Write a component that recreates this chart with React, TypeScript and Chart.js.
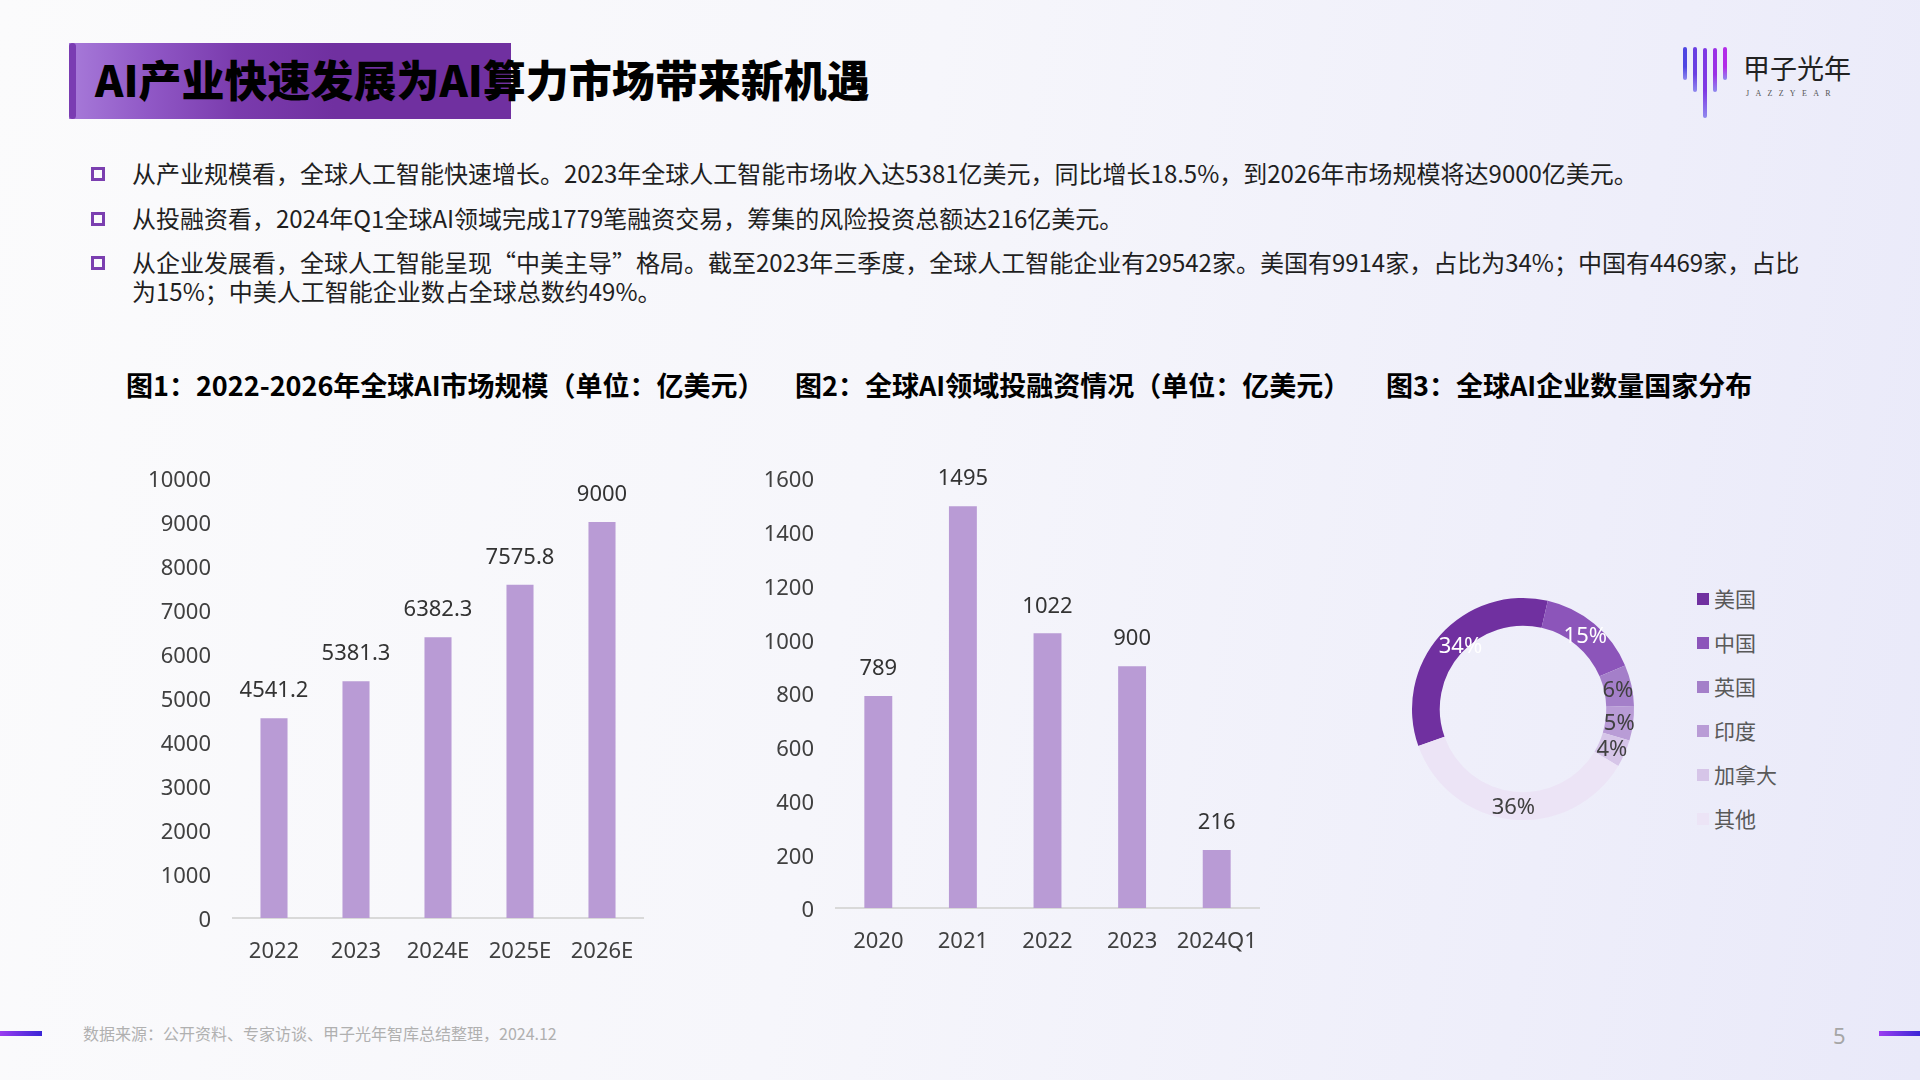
import React, { useEffect, useRef } from "react";
import { Chart, registerables } from "chart.js";

Chart.register(...registerables);

const FONT_CJK = "'Noto Sans CJK SC', 'Noto Sans', sans-serif";
const FONT_NUM = "'Noto Sans', 'Noto Sans CJK SC', sans-serif";

// ---------- data ----------
const pageTitle = "AI产业快速发展为AI算力市场带来新机遇";
const bulletTexts = [
  "从产业规模看，全球人工智能快速增长。2023年全球人工智能市场收入达5381亿美元，同比增长18.5%，到2026年市场规模将达9000亿美元。",
  "从投融资看，2024年Q1全球AI领域完成1779笔融资交易，筹集的风险投资总额达216亿美元。",
  "从企业发展看，全球人工智能呈现“中美主导”格局。截至2023年三季度，全球人工智能企业有29542家。美国有9914家，占比为34%；中国有4469家，占比\n为15%；中美人工智能企业数占全球总数约49%。",
];
const chartTitles = [
  "图1：2022-2026年全球AI市场规模（单位：亿美元）",
  "图2：全球AI领域投融资情况（单位：亿美元）",
  "图3：全球AI企业数量国家分布",
];

const marketYears = ["2022", "2023", "2024E", "2025E", "2026E"];
const marketValues = [4541.2, 5381.3, 6382.3, 7575.8, 9000];
const marketAxisMax = 10000;
const marketAxisStep = 1000;

const investPeriods = ["2020", "2021", "2022", "2023", "2024Q1"];
const investValues = [789, 1495, 1022, 900, 216];
const investAxisMax = 1600;
const investAxisStep = 200;

const countryNames = ["美国", "中国", "英国", "印度", "加拿大", "其他"];
const countryShares = [34, 15, 6, 5, 4, 36];
const countryColors = ["#7030a0", "#8c55ba", "#a47fc9", "#b99cd6", "#d6c5e8", "#ece4f6"];
const countryLabelColors = ["#ffffff", "#ffffff", "#404040", "#404040", "#404040", "#404040"];

const sourceNote = "数据来源：公开资料、专家访谈、甲子光年智库总结整理，2024.12";
const pageNumber = "5";

const BAR_COLOR = "#b99bd5";

// ---------- plugins ----------
const barValueLabels = {
  id: "barValueLabels",
  afterDatasetsDraw(chart: any) {
    const ctx = chart.ctx;
    const meta = chart.getDatasetMeta(0);
    const data = chart.data.datasets[0].data;
    ctx.save();
    ctx.font = `22px ${FONT_NUM}`;
    ctx.fillStyle = "#333333";
    ctx.textAlign = "center";
    ctx.textBaseline = "middle";
    meta.data.forEach((bar: any, i: number) => {
      ctx.fillText(String(data[i]), bar.x, bar.y - 27);
    });
    ctx.restore();
  },
};

const donutLabels = {
  id: "donutLabels",
  afterDatasetsDraw(chart: any) {
    const ctx = chart.ctx;
    const meta = chart.getDatasetMeta(0);
    const data = chart.data.datasets[0].data;
    ctx.save();
    ctx.font = `22px ${FONT_NUM}`;
    ctx.textAlign = "center";
    ctx.textBaseline = "middle";
    meta.data.forEach((arc: any, i: number) => {
      const p = arc.getProps(["x", "y", "startAngle", "endAngle", "innerRadius", "outerRadius"], true);
      const mid = (p.startAngle + p.endAngle) / 2;
      const r = (p.innerRadius + p.outerRadius) / 2;
      ctx.fillStyle = countryLabelColors[i];
      const dx = i === 0 ? 10 : 0;
      ctx.fillText(`${data[i]}%`, p.x + Math.cos(mid) * r + dx, p.y + Math.sin(mid) * r + 2);
    });
    ctx.restore();
  },
};

function barConfig(
  labels: string[],
  values: number[],
  max: number,
  step: number,
  yWidth: number,
  xHeight: number,
  padRight: number
): any {
  const tickFont = { size: 22, family: FONT_NUM };
  return {
    type: "bar",
    data: {
      labels,
      datasets: [
        {
          data: values,
          backgroundColor: BAR_COLOR,
          borderWidth: 0,
          barPercentage: 0.33,
          categoryPercentage: 1,
        },
      ],
    },
    plugins: [barValueLabels],
    options: {
      responsive: false,
      animation: false,
      events: [],
      layout: { padding: { top: 38, right: padRight, left: 0, bottom: 0 } },
      plugins: { legend: { display: false }, tooltip: { enabled: false } },
      scales: {
        x: {
          grid: { display: false, drawTicks: false },
          border: { display: true, color: "#d9d9d9", width: 2 },
          ticks: { padding: 21, color: "#404040", font: tickFont, maxRotation: 0, autoSkip: false },
          afterFit: (s: any) => {
            s.height = xHeight;
          },
        },
        y: {
          min: 0,
          max,
          grid: { display: false, drawTicks: false },
          border: { display: false },
          ticks: {
            stepSize: step,
            padding: 22,
            labelOffset: 3,
            color: "#404040",
            font: tickFont,
            autoSkip: false,
            callback: (v: any) => String(v),
          },
          afterFit: (s: any) => {
            s.width = yWidth;
          },
        },
      },
    },
  };
}

export default function App() {
  const c1 = useRef<HTMLCanvasElement>(null);
  const c2 = useRef<HTMLCanvasElement>(null);
  const c3 = useRef<HTMLCanvasElement>(null);

  useEffect(() => {
    const charts: Chart[] = [];
    if (c1.current) {
      charts.push(
        new Chart(c1.current, barConfig(marketYears, marketValues, marketAxisMax, marketAxisStep, 113, 62, 17))
      );
    }
    if (c2.current) {
      charts.push(
        new Chart(c2.current, barConfig(investPeriods, investValues, investAxisMax, investAxisStep, 96, 72, 21))
      );
    }
    if (c3.current) {
      charts.push(
        new Chart(c3.current, {
          type: "doughnut",
          data: {
            labels: countryNames,
            datasets: [
              {
                data: countryShares,
                backgroundColor: countryColors,
                borderWidth: 0,
                hoverOffset: 0,
                offset: 0,
              },
            ],
          },
          plugins: [donutLabels],
          options: {
            responsive: false,
            animation: false,
            events: [],
            cutout: "75%",
            rotation: -109.5,
            layout: { padding: 9 },
            plugins: { legend: { display: false }, tooltip: { enabled: false } },
          },
        } as any)
      );
    }
    return () => charts.forEach((c) => c.destroy());
  }, []);

  const abs = (o: React.CSSProperties): React.CSSProperties => ({ position: "absolute", ...o });

  const logoLines = [
    { x: 1683, top: 47, bottom: 80, color: "#4f46e2" },
    { x: 1693, top: 47, bottom: 92, color: "#6a3fe2" },
    { x: 1703, top: 48, bottom: 118, color: "#7f38e4" },
    { x: 1713, top: 48, bottom: 92, color: "#9a31e6" },
    { x: 1723, top: 47, bottom: 80, color: "#b22ce8" },
  ];

  const bulletCenters = [174, 219, 263];
  const titleLefts = [126, 795, 1386];

  return (
    <div
      style={{
        position: "fixed",
        left: 0,
        top: 0,
        width: 1920,
        height: 1080,
        overflow: "hidden",
        background: "linear-gradient(100deg, #fbfbfc 0%, #f6f6fb 45%, #eeeefa 80%, #e9e9f9 100%)",
        fontFamily: FONT_CJK,
      }}
    >
      {/* title box */}
      <div
        style={abs({
          left: 69,
          top: 43,
          width: 442,
          height: 76,
          background: "linear-gradient(90deg, #a77ad9 0%, #9058c6 18%, #7a3bad 38%, #7030a0 60%, #7030a0 100%)",
        })}
      />
      <div style={abs({ left: 69, top: 43, width: 7, height: 76, borderRadius: 4, background: "#7a3cb2" })} />
      <div
        style={abs({
          left: 95,
          top: 53,
          fontSize: 43,
          lineHeight: "50px",
          fontWeight: 900,
          color: "#000",
          whiteSpace: "nowrap",
        })}
      >
        {pageTitle}
      </div>

      {/* logo */}
      {logoLines.map((l, i) => (
        <div
          key={i}
          style={abs({
            left: l.x,
            top: l.top,
            width: 4,
            height: l.bottom - l.top,
            borderRadius: 2,
            background: `linear-gradient(180deg, ${l.color} 0%, ${l.color} 60%, rgba(80,70,230,0.6) 100%)`,
          })}
        />
      ))}
      <div
        style={abs({
          left: 1743,
          top: 52,
          fontSize: 27,
          lineHeight: "32px",
          color: "#222",
          whiteSpace: "nowrap",
        })}
      >
        甲子光年
      </div>
      <div
        style={abs({
          left: 1746,
          top: 88,
          fontSize: 8,
          lineHeight: "12px",
          color: "#555",
          letterSpacing: "6.3px",
          fontFamily: "'Liberation Serif', serif",
          whiteSpace: "nowrap",
        })}
      >
        JAZZYEAR
      </div>

      {/* bullets */}
      {bulletTexts.map((t, i) => (
        <React.Fragment key={i}>
          <div
            style={abs({
              left: 91,
              top: bulletCenters[i] - 7,
              width: 8,
              height: 8,
              border: "3px solid #7b3fb0",
              boxSizing: "content-box",
            })}
          />
          <div
            style={abs({
              left: 132,
              top: bulletCenters[i] - 16,
              fontSize: 24,
              lineHeight: "29px",
              color: "#1f1f1f",
              whiteSpace: "pre",
            })}
          >
            {t}
          </div>
        </React.Fragment>
      ))}

      {/* chart titles */}
      {chartTitles.map((t, i) => (
        <div
          key={i}
          style={abs({
            left: titleLefts[i],
            top: 369,
            fontSize: 27,
            lineHeight: "32px",
            fontWeight: 700,
            color: "#000",
            whiteSpace: "nowrap",
          })}
        >
          {t}
        </div>
      ))}

      {/* charts */}
      <canvas ref={c1} width={540} height={540} style={abs({ left: 120, top: 440, width: 540, height: 540 })} />
      <canvas ref={c2} width={540} height={540} style={abs({ left: 740, top: 440, width: 540, height: 540 })} />
      <canvas ref={c3} width={240} height={240} style={abs({ left: 1403, top: 589, width: 240, height: 240 })} />

      {/* donut legend */}
      {countryNames.map((n, i) => (
        <React.Fragment key={n}>
          <div
            style={abs({
              left: 1697,
              top: 599 + i * 44 - 6,
              width: 12,
              height: 12,
              background: countryColors[i],
            })}
          />
          <div
            style={abs({
              left: 1714,
              top: 599 + i * 44 - 15,
              fontSize: 21,
              lineHeight: "28px",
              color: "#595959",
              whiteSpace: "nowrap",
            })}
          >
            {n}
          </div>
        </React.Fragment>
      ))}

      {/* footer */}
      <div style={abs({ left: 0, top: 1031, width: 42, height: 5, background: "linear-gradient(90deg, #9b3cf0, #3a26d6)" })} />
      <div style={abs({ left: 1879, top: 1031, width: 41, height: 5, background: "linear-gradient(90deg, #9b3cf0, #3a26d6)" })} />
      <div
        style={abs({
          left: 83,
          top: 1023,
          fontSize: 16,
          lineHeight: "20px",
          color: "#b0b0b0",
          whiteSpace: "nowrap",
        })}
      >
        {sourceNote}
      </div>
      <div
        style={abs({
          left: 1833,
          top: 1022,
          fontSize: 22,
          lineHeight: "26px",
          color: "#a6a6a6",
          fontFamily: FONT_NUM,
        })}
      >
        {pageNumber}
      </div>
    </div>
  );
}
